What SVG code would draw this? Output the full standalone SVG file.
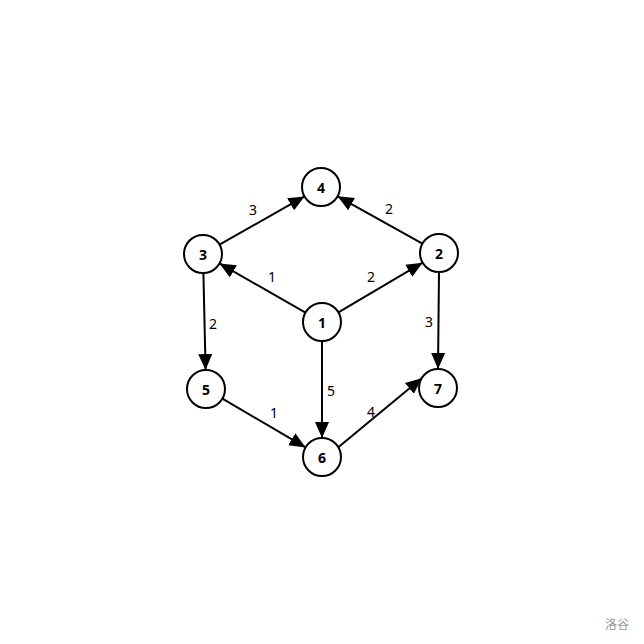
<svg xmlns="http://www.w3.org/2000/svg" width="644" height="644" viewBox="0 0 644 644">
<defs>
<marker id="ah" markerUnits="userSpaceOnUse" markerWidth="16" markerHeight="16" viewBox="0 0 16 14" refX="16" refY="7" orient="auto">
<path d="M0,0 L16,7 L0,14 z" fill="#000"/>
</marker>
<style>
.n circle{fill:#fff;stroke:#000;stroke-width:2}
.n text{font-family:"Noto Sans","DejaVu Sans",sans-serif;font-weight:bold;font-size:14px;text-anchor:middle;dominant-baseline:central;fill:#000}
.e line{stroke:#000;stroke-width:2;marker-end:url(#ah)}
.lbl{font-family:"Noto Sans","DejaVu Sans",sans-serif;font-size:14px;text-anchor:middle;dominant-baseline:central;fill:#000}
</style>
</defs>
<rect width="644" height="644" fill="#fff"/>
<g id="edges" class="e">
<line x1="219.5" y1="244.6" x2="304.5" y2="196.4"/>
<line x1="422.4" y1="243.7" x2="337.6" y2="196.3"/>
<line x1="305.5" y1="312.6" x2="219.5" y2="263.4"/>
<line x1="338.4" y1="312.3" x2="422.6" y2="262.7"/>
<line x1="203.4" y1="273" x2="205.6" y2="370"/>
<line x1="439" y1="272" x2="438" y2="369"/>
<line x1="322" y1="341" x2="322" y2="438"/>
<line x1="222.4" y1="398.6" x2="305.6" y2="447.4"/>
<line x1="338.3" y1="447.3" x2="421.7" y2="378.3"/>
</g>
<g id="edge-labels">
<text class="lbl" x="253" y="209">3</text>
<text class="lbl" x="389" y="208">2</text>
<text class="lbl" x="272" y="276">1</text>
<text class="lbl" x="371" y="276">2</text>
<text class="lbl" x="213" y="323">2</text>
<text class="lbl" x="429" y="321">3</text>
<text class="lbl" x="331" y="390">5</text>
<text class="lbl" x="274" y="412">1</text>
<text class="lbl" x="371" y="411">4</text>
</g>
<g id="node4" class="n"><circle cx="321" cy="187" r="19"/><text x="321" y="187">4</text></g>
<g id="node3" class="n"><circle cx="203" cy="254" r="19"/><text x="203" y="254">3</text></g>
<g id="node2" class="n"><circle cx="439" cy="253" r="19"/><text x="439" y="253">2</text></g>
<g id="node1" class="n"><circle cx="322" cy="322" r="19"/><text x="322" y="322">1</text></g>
<g id="node5" class="n"><circle cx="206" cy="389" r="19"/><text x="206" y="389">5</text></g>
<g id="node7" class="n"><circle cx="438" cy="388" r="19"/><text x="438" y="388">7</text></g>
<g id="node6" class="n"><circle cx="322" cy="457" r="19"/><text x="322" y="457">6</text></g>
<text x="617" y="623" font-family="'Noto Sans CJK SC',sans-serif" font-size="12" fill="#999" text-anchor="middle" dominant-baseline="central">洛谷</text>
</svg>
